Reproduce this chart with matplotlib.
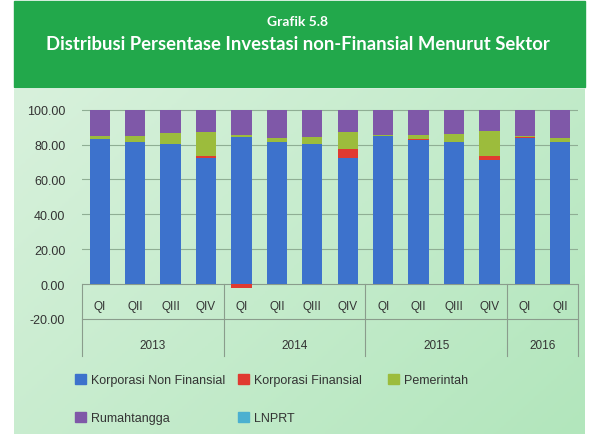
import numpy as np
import matplotlib.pyplot as plt
from matplotlib.patches import Rectangle, Patch

# Data (percent)
quarters = ['QI', 'QII', 'QIII', 'QIV', 'QI', 'QII', 'QIII', 'QIV',
            'QI', 'QII', 'QIII', 'QIV', 'QI', 'QII']
years = ['2013', '2014', '2015', '2016']
year_span = [4, 4, 4, 2]

knf = [83.0, 81.3, 80.3, 72.6, 84.5, 81.3, 80.3, 72.6, 85.0, 82.8, 81.3, 71.3, 84.0, 81.3]
kf = [0.3, 0.3, 0.3, 1.0, -2.0, 0.3, 0.3, 4.8, 0.2, 0.2, 0.3, 2.3, 0.2, 0.3]
pem = [1.4, 3.4, 5.8, 13.8, 0.8, 1.9, 4.0, 9.6, 0.5, 2.7, 4.4, 14.3, 0.8, 2.4]
rt = [15.0, 14.7, 13.3, 12.3, 14.4, 16.2, 15.1, 12.7, 14.0, 14.0, 13.7, 11.8, 14.7, 15.7]
lnprt = [0.3, 0.3, 0.3, 0.3, 0.3, 0.3, 0.3, 0.3, 0.3, 0.3, 0.3, 0.3, 0.3, 0.3]

series = [
    ('Korporasi Non Finansial', knf, '#3d72cc'),
    ('Korporasi Finansial', kf, '#e03a30'),
    ('Pemerintah', pem, '#9cbc3c'),
    ('Rumahtangga', rt, '#7f58a8'),
    ('LNPRT', lnprt, '#4bb0d0'),
]

plt.rcParams['font.family'] = ['Liberation Sans', 'DejaVu Sans']

fig = plt.figure(figsize=(5.95, 4.35), dpi=100)
fig.patch.set_facecolor('white')

# green header
fig.add_artist(Rectangle((14 / 595, 1 - 88 / 435), 571 / 595, 86 / 435,
                         transform=fig.transFigure, color='#22a84b', zorder=0))
fig.text(0.5, 1 - 22 / 435, 'Grafik 5.8', ha='center', va='center', color='white',
         fontsize=10, fontweight='bold', family=['Lato', 'DejaVu Sans'])
fig.text(0.5, 1 - 45 / 435, 'Distribusi Persentase Investasi non-Finansial Menurut Sektor',
         ha='center', va='center', color='white', fontsize=13.3, fontweight='bold',
         family=['Lato', 'DejaVu Sans'])

# light green panel with gradient
bg = fig.add_axes([14 / 595, 0, 571 / 595, 345 / 435], zorder=-1)
gx, gy = np.meshgrid(np.linspace(0, 1, 200), np.linspace(0, 1, 200))
grad = 0.6 * gx + 0.4 * gy
bg.imshow(grad, cmap=plt.matplotlib.colors.LinearSegmentedColormap.from_list(
    'g', ['#d8f1dc', '#b2e6bc']), aspect='auto', extent=[0, 1, 0, 1])
bg.axis('off')

ax = fig.add_axes([82 / 595, 1 - 320 / 435, 496 / 595, 218 / 435])
ax.set_facecolor('none')

x = np.arange(len(quarters))
pos_bottom = np.zeros(len(x))
neg_bottom = np.zeros(len(x))
for name, vals, col in series:
    v = np.array(vals)
    b = np.where(v >= 0, pos_bottom, neg_bottom)
    ax.bar(x, v, 0.57, bottom=b, color=col, label=name, zorder=3)
    pos_bottom += np.where(v >= 0, v, 0)
    neg_bottom += np.where(v < 0, v, 0)

ax.set_xlim(-0.5, 13.5)
ax.set_ylim(-20, 105)
ax.set_yticks([-20, 0, 20, 40, 60, 80, 100])
ax.set_yticklabels(['%.2f' % t for t in [-20, 0, 20, 40, 60, 80, 100]],
                   fontsize=9, color='#333333')
ax.tick_params(axis='y', length=0, pad=12)
ax.set_xticks([])
for s in ax.spines.values():
    s.set_visible(False)
for t in [20, 40, 60, 80, 100]:
    ax.axhline(t, color='#8fae94', lw=0.8, zorder=1)

# category table under the bars
lc = '#8a9c8c'
ax.plot([-0.5, 13.5], [0, 0], color=lc, lw=0.8, zorder=2)
ax.plot([-0.5, 13.5], [-20, -20], color=lc, lw=0.8, zorder=2, clip_on=False)
for q, xi in zip(quarters, x):
    ax.text(xi, -12.5, q, ha='center', va='center', fontsize=8.5, color='#333333')
start = -0.5
for yr, n in zip(years, year_span):
    ax.plot([start, start], [0, -41], color=lc, lw=0.8, clip_on=False)
    ax.text(start + n / 2, -35, yr, ha='center', va='center', fontsize=8.5,
            color='#333333', clip_on=False)
    start += n
ax.plot([start, start], [0, -41], color=lc, lw=0.8, clip_on=False)

# legend in three columns
cols = [([0, 3], 75), ([1, 4], 238), ([2], 388)]
for idx, xpos in cols:
    handles = [Patch(color=series[i][2], label=series[i][0]) for i in idx]
    lg = fig.legend(handles=handles, loc='upper left',
                    bbox_to_anchor=(xpos / 595, 1 - 375 / 435), frameon=False,
                    fontsize=9, handlelength=0.9, handleheight=0.9,
                    handletextpad=0.4, labelspacing=2.0, borderpad=0,
                    borderaxespad=0, labelcolor='#333333')

fig.savefig('out.png', dpi=100)
